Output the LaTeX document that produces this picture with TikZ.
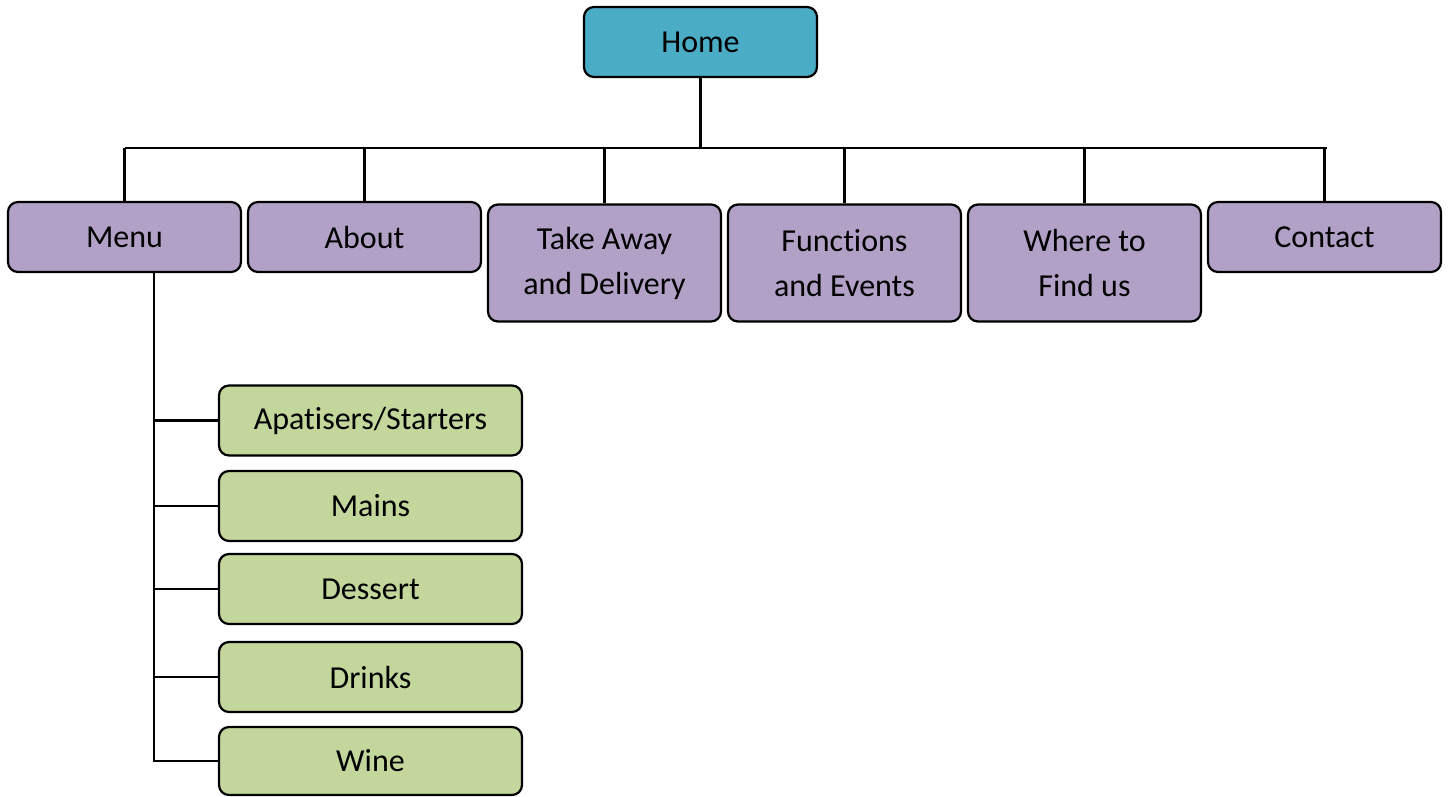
\documentclass[tikz,border=0pt]{standalone}
\usepackage{fontspec}
\setmainfont[RawFeature={-liga;-clig;-dlig;-calt}]{Carlito}
\definecolor{homeblue}{HTML}{4BACC6}
\definecolor{navpurple}{HTML}{B2A1C7}
\definecolor{subgreen}{HTML}{C3D69B}
\begin{document}
\begin{tikzpicture}[x=1pt,y=-1pt,
  box/.style={draw=black, line width=2.2pt, rounded corners=10pt, minimum width=233pt, align=center,
    font=\fontsize{32}{45}\selectfont, inner sep=0pt},
  homebox/.style={box, fill=homeblue, minimum height=70pt},
  navbox/.style={box, fill=navpurple, minimum height=70pt},
  navtall/.style={box, fill=navpurple, minimum height=117pt},
  subbox/.style={box, fill=subgreen, minimum width=303pt, minimum height=70pt},
  link/.style={line width=2.2pt}]
\useasboundingbox (0,0) rectangle (1450,796);
\node[homebox] (home) at (700.5,42) {Home};
\node[navbox] (menu) at (124.5,237) {Menu};
\node[navbox] (about) at (364.5,237) {About};
\node[navtall] (take) at (604.5,263) {Take Away\\and Delivery};
\node[navtall] (func) at (844.5,263) {Functions\\and Events};
\node[navtall] (where) at (1084.5,263) {Where to\\Find us};
\node[navbox] (contact) at (1324.5,237) {Contact};
\node[subbox] (starters) at (370.5,420.5) {Apatisers/Starters};
\node[subbox] (mains) at (370.5,506) {Mains};
\node[subbox] (dessert) at (370.5,589) {Dessert};
\node[subbox] (drinks) at (370.5,677) {Drinks};
\node[subbox, minimum height=68pt] (wine) at (370.5,761) {Wine};
\coordinate (bar) at (0,148);
\coordinate (barR) at (1327,148);
\coordinate (trunk) at (154,0);
\draw[link] (home.south) -- (home.south |- bar);
\draw[link] (menu.north |- bar) -- (barR);
\foreach \n in {menu,about,take,func,where,contact}
  \draw[link] (\n.north) -- (\n.north |- bar);
\draw[link] (trunk |- menu.south) -- (trunk |- wine.west) -- (wine.west);
\foreach \n in {starters,mains,dessert,drinks}
  \draw[link] (trunk |- \n.west) -- (\n.west);
\end{tikzpicture}
\end{document}
